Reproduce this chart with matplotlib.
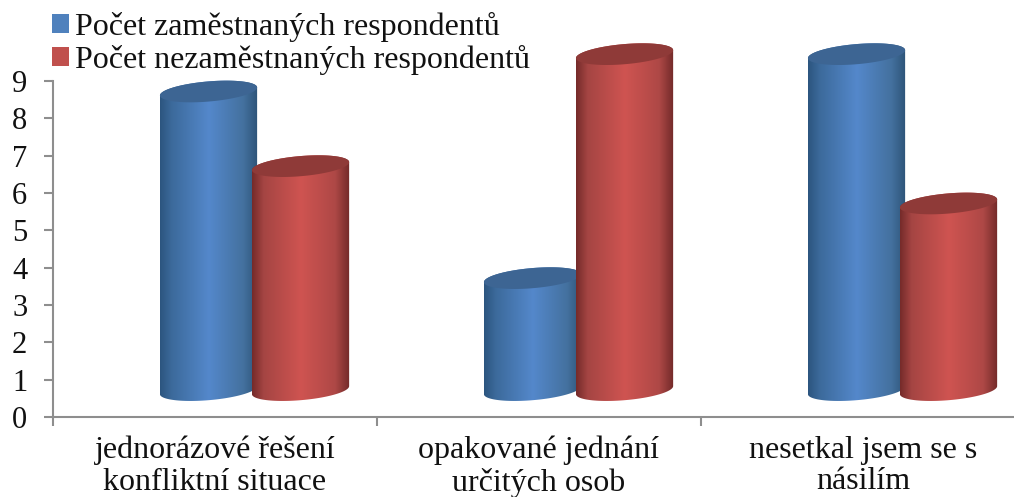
import numpy as np
import matplotlib
matplotlib.use("Agg")
import matplotlib.pyplot as plt
from matplotlib.colors import LinearSegmentedColormap
from matplotlib.patches import Patch, Polygon

categories = ["jednorázové řešení\nkonfliktní situace", "opakované jednání\nurčitých osob", "nesetkal jsem se s\nnásilím"]
employed = [8, 3, 9]
unemployed = [6, 9, 5]
series_names = ["Počet zaměstnaných respondentů", "Počet nezaměstnaných respondentů"]
y_ticks = [0, 1, 2, 3, 4, 5, 6, 7, 8, 9]

plt.rcParams['font.family'] = ['Liberation Serif', 'DejaVu Serif']

# 3D look of the original: base sits above the axis line, ellipses are tilted
BASE = 0.72
HALF_W = 0.15
RY = 0.27
TILT = 0.107

blue_stops = [(0, "#2c557f"), (0.12, "#3c6a9b"), (0.5, "#5488cb"), (0.85, "#44719f"), (1, "#2e5478")]
red_stops = [(0, "#752b2a"), (0.12, "#a54543"), (0.5, "#cf5451"), (0.85, "#ae4846"), (1, "#722a29")]
blue_map = LinearSegmentedColormap.from_list("blue_bar", blue_stops)
red_map = LinearSegmentedColormap.from_list("red_bar", red_stops)


def ellipse_points(xc, yc, t):
    return np.column_stack([xc + HALF_W * np.cos(t), yc + RY * np.sin(t) + TILT * np.cos(t)])


def draw_cylinder(ax, xc, value, cmap, top_color, z):
    top = value + BASE
    lower = ellipse_points(xc, BASE, np.linspace(np.pi, 2 * np.pi, 60))
    upper = ellipse_points(xc, top, np.linspace(0, np.pi, 60))
    outline = Polygon(np.vstack([lower, upper]), closed=True, transform=ax.transData)
    grad = np.linspace(0, 1, 256).reshape(1, -1)
    im = ax.imshow(grad, cmap=cmap, aspect="auto", zorder=z, interpolation="bilinear",
                   extent=[xc - HALF_W, xc + HALF_W, BASE - 1, top + 1])
    im.set_clip_path(outline)
    cap = ellipse_points(xc, top, np.linspace(0, 2 * np.pi, 120))
    ax.add_patch(Polygon(cap, closed=True, facecolor=top_color, edgecolor="none", zorder=z + 0.5))


fig = plt.figure(figsize=(10.14, 4.97), dpi=100)
ax = fig.add_axes([53 / 1014, 80 / 497, 961 / 1014, 417 / 497])

for i in range(len(categories)):
    draw_cylinder(ax, i + 0.48, employed[i], blue_map, "#3d6593", 2 + i * 2)
    draw_cylinder(ax, i + 0.764, unemployed[i], red_map, "#8f3a38", 3 + i * 2)

ax.set_xlim(0, 961 / 324)
ax.set_ylim(0, 417 / 37.33)

for s in ["top", "right"]:
    ax.spines[s].set_visible(False)
for s in ["left", "bottom"]:
    ax.spines[s].set_color("#8e8e8e")
    ax.spines[s].set_linewidth(1.5)
ax.spines["left"].set_bounds(0, 9)

ax.set_yticks(y_ticks)
ax.tick_params(axis="y", length=6.5, width=1.5, color="#8e8e8e", labelsize=22, pad=12, labelcolor="#111111")
ax.set_xticks([0, 1, 2])
ax.set_xticklabels([])
ax.set_xticks([i + 0.5 for i in range(len(categories))], minor=True)
ax.set_xticklabels(categories, minor=True, fontsize=23, color="#111111", linespacing=1.12)
ax.tick_params(axis="x", which="minor", length=0, pad=13.5)
ax.tick_params(axis="x", which="major", length=6.5, width=1.5, color="#8e8e8e")

handles = [Patch(facecolor="#4f81bd"), Patch(facecolor="#c0504d")]
ax.legend(handles, series_names, loc="upper left", bbox_to_anchor=(52 / 1014, 1 - 12 / 497),
          bbox_transform=fig.transFigure, frameon=False, fontsize=23, borderpad=0, borderaxespad=0,
          handlelength=0.53, handleheight=0.55, handletextpad=0.2, labelspacing=0.08,
          labelcolor="#111111")

fig.savefig("out.png", dpi=100)
